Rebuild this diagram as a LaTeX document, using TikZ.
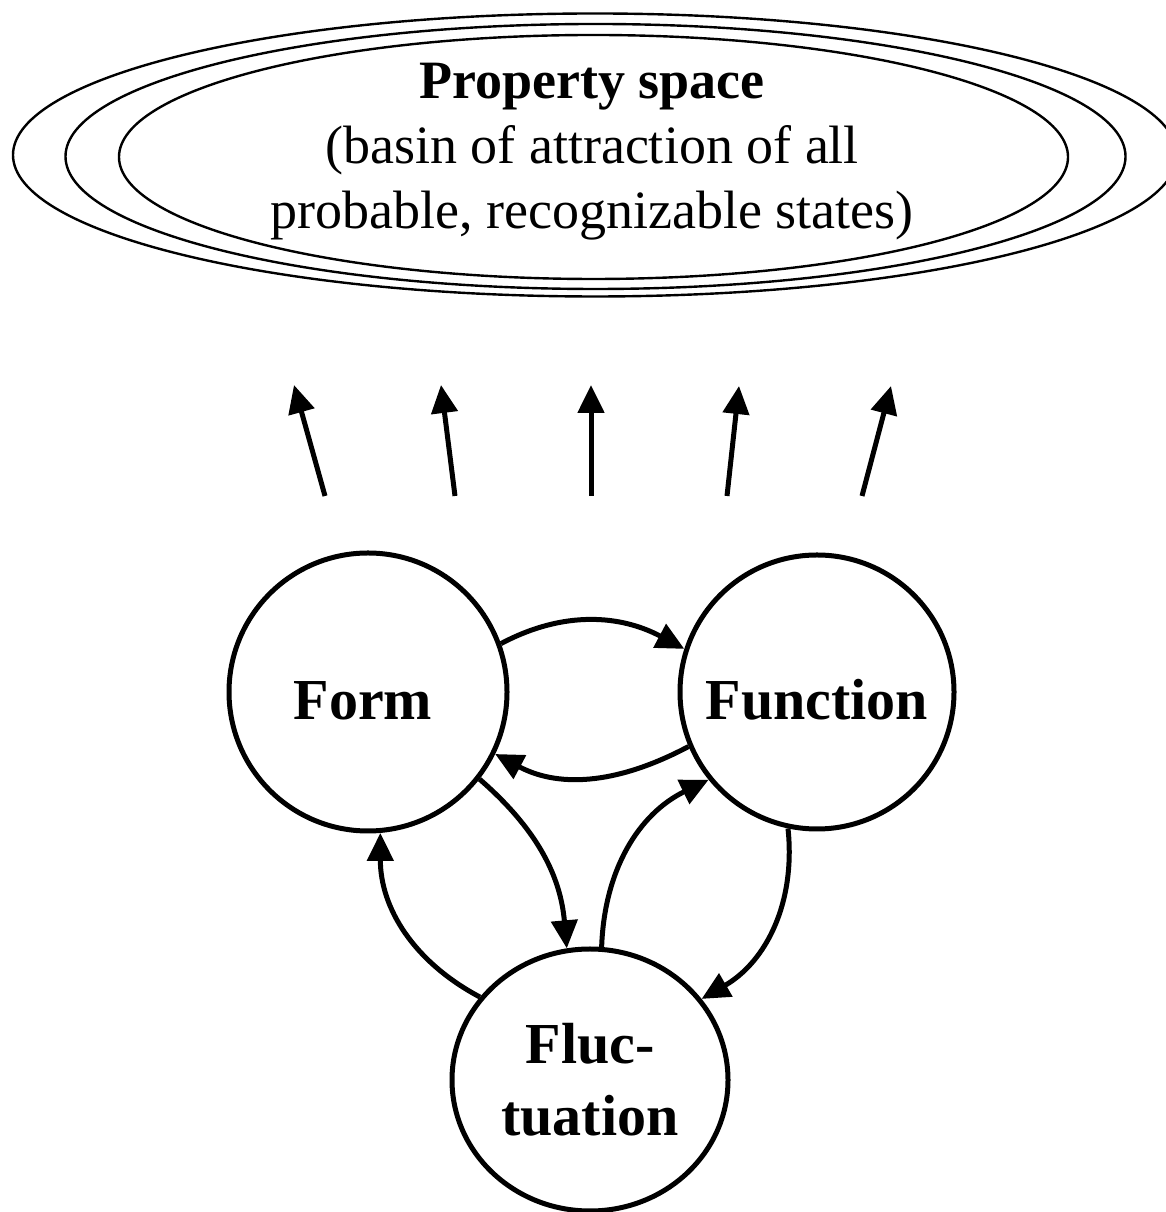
\documentclass[tikz,border=0pt]{standalone}
\usepackage{fontspec}
\setmainfont{Liberation Serif}
\usetikzlibrary{arrows.meta,shapes.geometric}
\begin{document}
\begin{tikzpicture}[x=1pt,y=1pt,
  tip/.style={-{Triangle[length=28pt,width=26pt]}, line width=5pt},
  ring/.style={draw, line width=2.4pt},
  statebase/.style={draw, line width=5pt, inner sep=0pt, align=center,
    font=\fontsize{58}{72}\selectfont\bfseries}]
\useasboundingbox (0,0) rectangle (1165,1212);
% property space rings
\draw[ring] (595,1057) ellipse [x radius=582, y radius=141.5];
\draw[ring] (595.5,1055.5) ellipse [x radius=530, y radius=132.5];
\draw[ring] (593.5,1055) ellipse [x radius=474.5, y radius=122];
\node[font=\fontsize{54}{65}\selectfont, align=center, inner sep=0pt] (title) at (592,1060)
  {\textbf{Property space}\\(basin of attraction of all\\probable, recognizable states)};
% upward arrows
\coordinate (a1s) at (325,716); \coordinate (a1e) at (294,827);
\coordinate (a2s) at (455,716); \coordinate (a2e) at (441,827);
\coordinate (a3s) at (591,716); \coordinate (a3e) at (591,827);
\coordinate (a4s) at (727,716); \coordinate (a4e) at (739,826);
\coordinate (a5s) at (862,716); \coordinate (a5e) at (891,826);
\draw[tip] (a1s) -- (a1e);
\draw[tip] (a2s) -- (a2e);
\draw[tip] (a3s) -- (a3e);
\draw[tip] (a4s) -- (a4e);
\draw[tip] (a5s) -- (a5e);
% states
\node[statebase, circle, minimum size=278pt, text height=56pt, text depth=0pt] (form) at (368,520) {Form\kern10pt};
\node[statebase, circle, minimum size=274pt, text height=56pt, text depth=0pt] (function) at (817,520) {Function};
\node[statebase, ellipse, minimum width=276pt, minimum height=262pt] (fluct) at (590,132) {Fluc-\\tuation};
% connectors
\draw[tip] (form.20) to[out=28,in=152] (function.162);
\draw[tip] (function.203) to[out=208,in=-28] (form.-26);
\draw[tip] (form.-38) to[out=-41,in=95] (fluct.100);
\draw[tip] (fluct.143) to[out=152,in=270] (form.-85);
\draw[tip] (fluct.85) to[out=88,in=206] (function.219);
\draw[tip] (function.258) to[out=276,in=30] (fluct.36);
\end{tikzpicture}
\end{document}
